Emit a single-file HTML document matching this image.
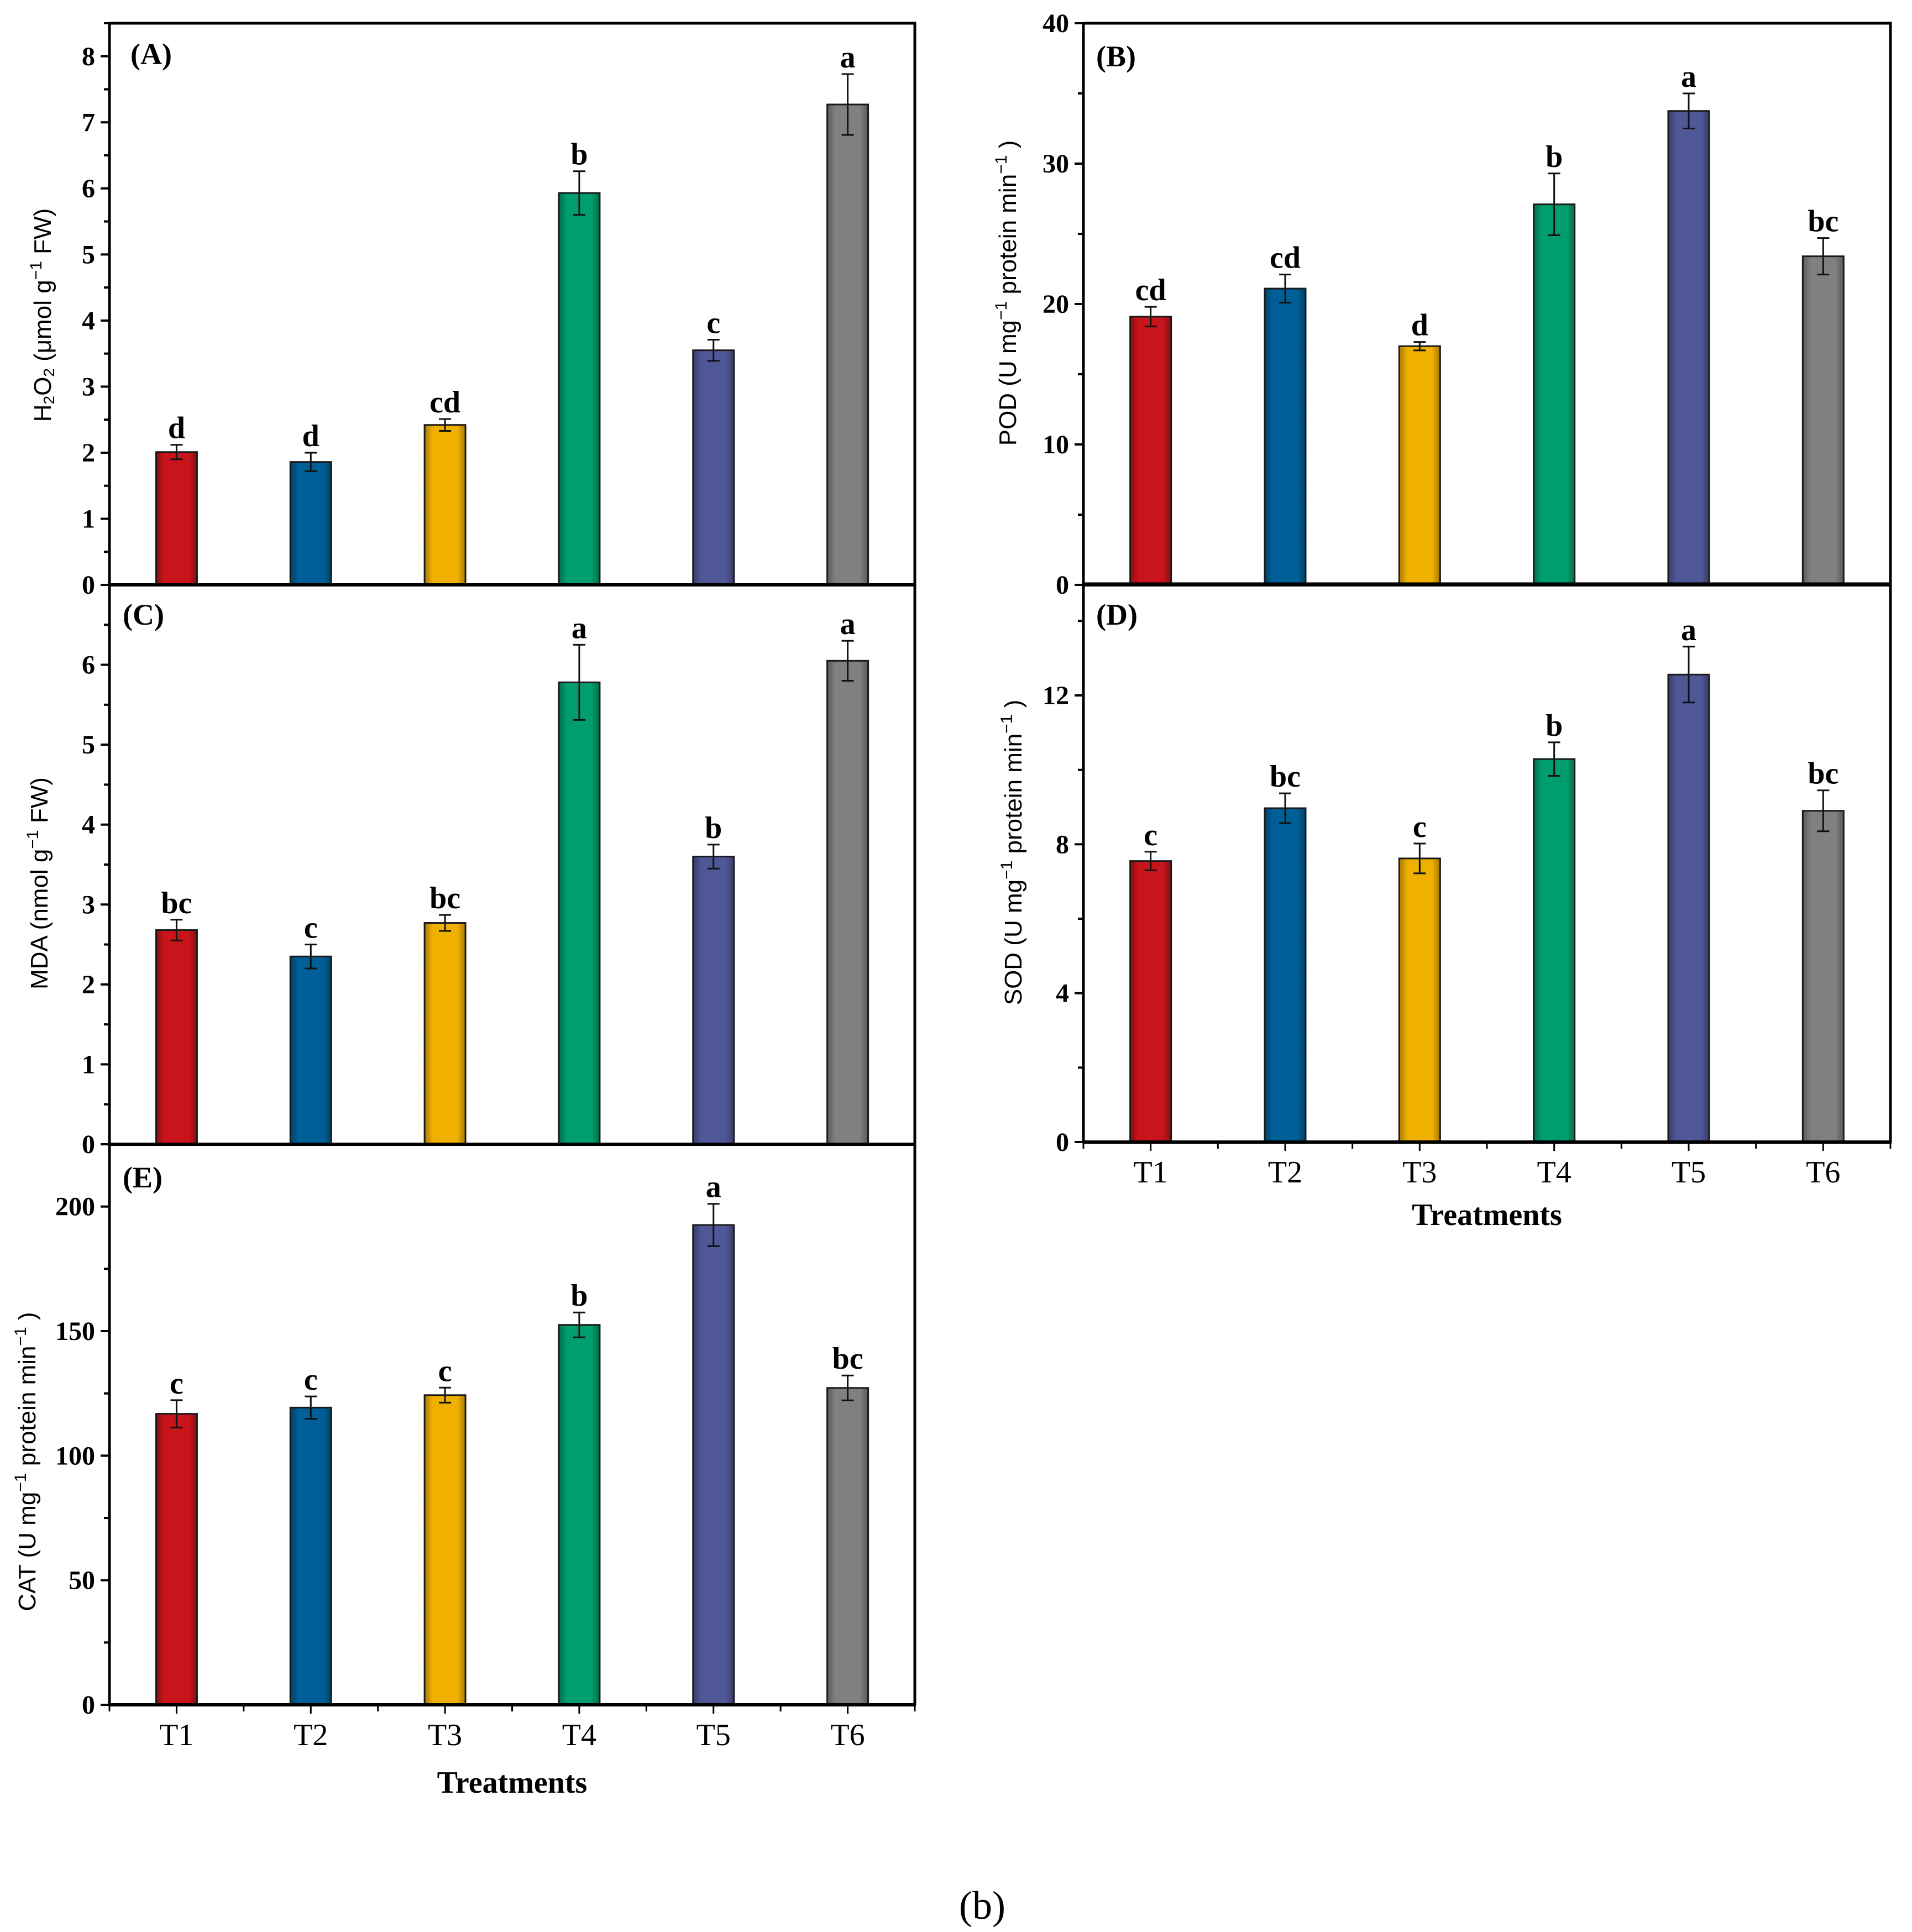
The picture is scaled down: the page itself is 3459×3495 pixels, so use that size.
<!DOCTYPE html>
<html><head><meta charset="utf-8">
<style>
html,body{margin:0;padding:0;background:#fff;}
svg{display:block;}
</style></head>
<body>
<svg id="fig" xmlns="http://www.w3.org/2000/svg" width="3459" height="3495" viewBox="0 0 3459 3495">
<defs>
</defs>
<rect x="0" y="0" width="3459" height="3495" fill="#fff"/>
<text x="1777" y="3471" font-family="Liberation Serif, serif" font-size="72" text-anchor="middle">(b)</text>
</svg>
<script>
// ---- data ----
const categories = ['T1','T2','T3','T4','T5','T6'];
const colors = ['#c8141a','#005f96','#efb000','#009e6e','#4f5797','#808080'];

const h2o2Values = [2.01, 1.86, 2.42, 5.93, 3.55, 7.27];
const h2o2Errors = [0.11, 0.14, 0.09, 0.33, 0.16, 0.46];
const h2o2Letters = ['d','d','cd','b','c','a'];
const h2o2Ticks = [0,1,2,3,4,5,6,7,8];

const podValues = [19.1, 21.1, 17.0, 27.1, 33.75, 23.4];
const podErrors = [0.7, 1.0, 0.3, 2.2, 1.25, 1.3];
const podLetters = ['cd','cd','d','b','a','bc'];
const podTicks = [0,10,20,30,40];

const mdaValues = [2.68, 2.35, 2.77, 5.78, 3.6, 6.05];
const mdaErrors = [0.13, 0.15, 0.10, 0.47, 0.15, 0.25];
const mdaLetters = ['bc','c','bc','a','b','a'];
const mdaTicks = [0,1,2,3,4,5,6];

const sodValues = [7.55, 8.97, 7.62, 10.29, 12.56, 8.9];
const sodErrors = [0.25, 0.4, 0.4, 0.45, 0.75, 0.55];
const sodLetters = ['c','bc','c','b','a','bc'];
const sodTicks = [0,4,8,12];

const catValues = [116.8, 119.3, 124.3, 152.5, 192.6, 127.2];
const catErrors = [5.5, 4.5, 3.0, 5.0, 8.5, 5.0];
const catLetters = ['c','c','c','b','a','bc'];
const catTicks = [0,50,100,150,200];

const svg = document.getElementById('fig');
const NS = 'http://www.w3.org/2000/svg';
function mk(tag, attrs, parent){
  const e = document.createElementNS(NS, tag);
  for (const k in attrs) e.setAttribute(k, attrs[k]);
  (parent||svg).appendChild(e);
  return e;
}
const defs = svg.querySelector('defs');
function shade(hex, f){
  const n = parseInt(hex.slice(1),16);
  let r=(n>>16)&255,g=(n>>8)&255,b=n&255;
  r=Math.round(r*f);g=Math.round(g*f);b=Math.round(b*f);
  return 'rgb('+r+','+g+','+b+')';
}
colors.forEach((c,i)=>{
  const lg = mk('linearGradient',{id:'g'+i,x1:'0',x2:'1',y1:'0',y2:'0'},defs);
  mk('stop',{offset:'0','stop-color':shade(c,0.7)},lg);
  mk('stop',{offset:'0.2','stop-color':c},lg);
  mk('stop',{offset:'0.8','stop-color':c},lg);
  mk('stop',{offset:'1','stop-color':shade(c,0.7)},lg);
});

function panel(p){
  const g = mk('g',{});
  
  
  const {x0,x1,y0,y1,max} = p;
  const ys = v => y0 - v/max*(y0-y1);
  const bw = (x1-x0)/categories.length;
  const xc = i => x0 + bw*(i+0.5);
  const frame = mk('path',{d:`M${x0},${y1} L${x1},${y1} L${x1},${y0}`,stroke:'#000','stroke-width':5,fill:'none'},g);
  
  
  p.values.forEach((v,i)=>{
    const top = ys(v);
    const r = mk('rect',{x:xc(i)-37,y:top,width:74,height:y0-top,fill:'url(#g'+i+')',stroke:'#1a1a1a','stroke-width':3},g);
    
    
    const e = p.errors[i];
    const et = ys(v+e), eb = ys(v-e);
    const eg = mk('path',{d:`M${xc(i)},${et} L${xc(i)},${eb} M${xc(i)-11},${et} L${xc(i)+11},${et} M${xc(i)-11},${eb} L${xc(i)+11},${eb}`,stroke:'#111','stroke-width':3,fill:'none'},g);
    
    
    const t = mk('text',{x:xc(i),y:et-12,'font-family':'Liberation Serif, serif','font-weight':'bold','font-size':56,'text-anchor':'middle'},g);
    t.textContent = p.letters[i];
    
    
  });
  const la = mk('line',{x1:x0,y1:y1-2,x2:x0,y2:y0+2,stroke:'#000','stroke-width':5},g);
  
  
  const ba = mk('line',{x1:x0,y1:y0,x2:x1+2,y2:y0,stroke:'#000','stroke-width':6},g);
  
  
  for (let v=0; v<=max+1e-9; v+=p.minor){
    const y = ys(v);
    const major = p.ticks.some(t=>Math.abs(t-v)<1e-9);
    mk('line',{x1:x0-(major?16:10),y1:y,x2:x0,y2:y,stroke:'#000','stroke-width':4},g);
  }
  p.ticks.forEach(t=>{
    const tx = mk('text',{x:x0-26,y:ys(t)+16,'font-family':'Liberation Serif, serif','font-weight':'bold','font-size':48,'text-anchor':'end'},g);
    tx.textContent = t;
    
    
  });
  if (p.xlabels){
    for (let i=0;i<=categories.length;i++){
      const x = x0 + bw*i;
      mk('line',{x1:x,y1:y0,x2:x,y2:y0+12,stroke:'#000','stroke-width':3},g);
    }
    categories.forEach((c,i)=>{
      mk('line',{x1:xc(i),y1:y0,x2:xc(i),y2:y0+16,stroke:'#000','stroke-width':3},g);
      const t = mk('text',{x:xc(i),y:y0+73,'font-family':'Liberation Serif, serif','font-size':56,'text-anchor':'middle'},g);
      t.textContent = c;
      
      
    });
    const tt = mk('text',{x:(x0+x1)/2,y:y0+p.ttOff,'font-family':'Liberation Serif, serif','font-weight':'bold','font-size':56,'text-anchor':'middle'},g);
    tt.textContent = 'Treatments';
    
    
  }
  const pl = mk('text',{x:p.lx,y:p.ly,'font-family':'Liberation Serif, serif','font-weight':'bold','font-size':54},g);
  pl.textContent = p.label;
  
  
  const yt = mk('text',{x:0,y:0,transform:`translate(${p.tx},${p.ty}) rotate(-90)`,'font-family':'Liberation Sans, sans-serif','font-size':44,'text-anchor':'middle'},g);
  yt.innerHTML = p.title;
  
  
}

panel({name:'h2o2-panel',x0:198,x1:1655,y0:1058,y1:42,max:8.5,minor:0.5,ticks:h2o2Ticks,values:h2o2Values,errors:h2o2Errors,letters:h2o2Letters,label:'(A)',lx:236,ly:116,tx:92,ty:570,
  title:'H<tspan font-size="28" dy="6">2</tspan><tspan dy="-6">O</tspan><tspan font-size="28" dy="6">2</tspan><tspan dy="-6"> (μmol g</tspan><tspan font-size="30" dy="-17">−1</tspan><tspan dy="17"> FW)</tspan>'});
panel({name:'pod-panel',x0:1960,x1:3420,y0:1058,y1:42,max:40,minor:5,ticks:podTicks,values:podValues,errors:podErrors,letters:podLetters,label:'(B)',lx:1983,ly:120,tx:1838,ty:530,
  title:'POD (U mg<tspan font-size="30" dy="-17">−1</tspan><tspan dy="17"> protein min</tspan><tspan font-size="30" dy="-17">−1</tspan><tspan dy="17"> )</tspan>'});
panel({name:'mda-panel',x0:198,x1:1655,y0:2070,y1:1058,max:7,minor:0.5,ticks:mdaTicks,values:mdaValues,errors:mdaErrors,letters:mdaLetters,label:'(C)',lx:222,ly:1130,tx:86,ty:1598,
  title:'MDA (nmol g<tspan font-size="30" dy="-17">−1</tspan><tspan dy="17"> FW)</tspan>'});
panel({name:'sod-panel',x0:1960,x1:3420,y0:2066,y1:1056,max:15,minor:2,ticks:sodTicks,values:sodValues,errors:sodErrors,letters:sodLetters,label:'(D)',lx:1983,ly:1130,tx:1848,ty:1542,xlabels:true,ttOff:150,
  title:'SOD (U mg<tspan font-size="30" dy="-17">−1</tspan><tspan dy="17"> protein min</tspan><tspan font-size="30" dy="-17">−1</tspan><tspan dy="17"> )</tspan>'});
panel({name:'cat-panel',x0:198,x1:1655,y0:3084,y1:2070,max:225,minor:25,ticks:catTicks,values:catValues,errors:catErrors,letters:catLetters,label:'(E)',lx:222,ly:2148,tx:64,ty:2644,xlabels:true,ttOff:159,
  title:'CAT (U mg<tspan font-size="30" dy="-17">−1</tspan><tspan dy="17"> protein min</tspan><tspan font-size="30" dy="-17">−1</tspan><tspan dy="17"> )</tspan>'});
</script>
</body></html>
